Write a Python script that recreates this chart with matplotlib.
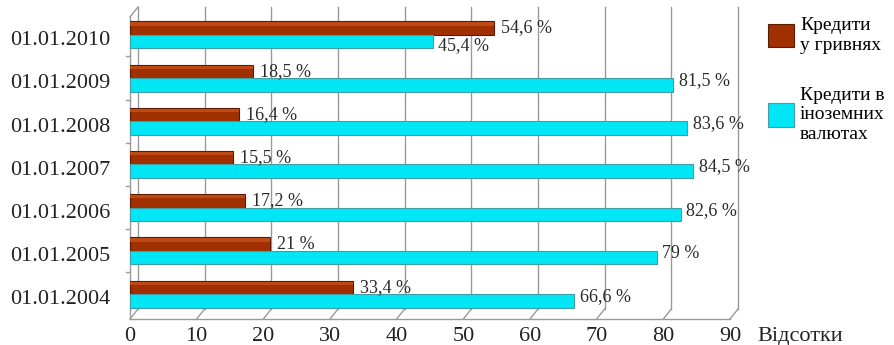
import numpy as np
import matplotlib.pyplot as plt
import matplotlib.transforms as mtransforms

dates = ["01.01.2004", "01.01.2005", "01.01.2006", "01.01.2007",
         "01.01.2008", "01.01.2009", "01.01.2010"]
hrn = [33.4, 21, 17.2, 15.5, 16.4, 18.5, 54.6]
fx = [66.6, 79, 82.6, 84.5, 83.6, 81.5, 45.4]
xticks = [0, 10, 20, 30, 40, 50, 60, 70, 80, 90]

serif = ['Liberation Serif']
plt.rcParams['font.family'] = serif

W, H = 894, 345
fig = plt.figure(figsize=(W / 100, H / 100), dpi=100)
# front plane of the pseudo-3D box, in pixels
left, right, bottom, top = 130, 730, 319, 17
ax = fig.add_axes([left / W, (H - bottom) / H, (right - left) / W, (bottom - top) / H])

step = 43.2
y_first = 294
ax.set_xlim(0, 90)
ax.set_ylim(-(bottom - y_first) / step, 6 + ((y_first - 6 * step) - top) / step)
for s in ax.spines.values():
    s.set_visible(False)

y = np.arange(len(dates))
h = 13.5 / step
brown = "#a03000"
cyan = "#00e6f5"
b1 = ax.barh(y + h / 2, hrn, height=h, color=brown, edgecolor="#5c1a00", linewidth=0.8,
             label="Кредити\nу гривнях", zorder=3)
b2 = ax.barh(y - h / 2, fx, height=h, color=cyan, edgecolor="#3f9ea6", linewidth=0.8,
             label="Кредити в\nіноземних\nвалютах", zorder=3)

# lighter strip along the top of the brown bars
ax.barh(y + h * 0.8, hrn, height=h * 0.25, color="#bd4a14", linewidth=0, zorder=4)

def fmt(v):
    return ("%g" % v).replace(".", ",") + " %"

for yi, v in zip(y, hrn):
    ax.annotate(fmt(v), (v, yi + h / 2), xytext=(5, 0), textcoords="offset points",
                va="center", ha="left", fontsize=13, color="#2a2a2a", zorder=5)
for yi, v, vh in zip(y, fx, hrn):
    # push the label below the bar when the brown bar would cover it
    dy_lab = -3 if vh > v else 3
    ax.annotate(fmt(v), (v, yi - h / 2), xytext=(4, dy_lab), textcoords="offset points",
                va="center", ha="left", fontsize=13, color="#2a2a2a", zorder=5)

# back wall and floor of the box
dx, dy = 8, 10
back = mtransforms.offset_copy(ax.transData, fig=fig, x=dx, y=dy, units="dots")
y0, y1 = ax.get_ylim()
grid = "#9a9a9a"
for xv in xticks:
    ax.plot([xv, xv], [y0, y1], color=grid, lw=1, transform=back, clip_on=False, zorder=1)
    fx0, fy0 = ax.transData.transform((xv, y0))
    ax.plot([fx0, fx0 + dx], [fy0, fy0 + dy], color=grid, lw=1, transform=None, clip_on=False)
ax.plot([0, 90], [y0, y0], color=grid, lw=1, clip_on=False)
ax.plot([0, 0], [y0, y1], color=grid, lw=1, clip_on=False)
tx, ty = ax.transData.transform((0, y1))
ax.plot([tx, tx + dx], [ty, ty + dy], color=grid, lw=1, transform=None, clip_on=False)
for yc in y[:-1] + 0.5:
    ax.plot([-0.6, 0], [yc, yc], color=grid, lw=1, clip_on=False)

ax.set_xticks(xticks)
ax.set_xticklabels([str(t) for t in xticks], fontsize=16, color="#222222")
ax.set_yticks(y - 0.08)
ax.set_yticklabels(dates, fontsize=16, color="#222222")
ax.tick_params(axis="x", length=0, pad=6)
ax.tick_params(axis="y", length=0, pad=14)

fig.text(757 / W, (H - 336) / H, "Відсотки", fontsize=16, color="#222222", va="center", ha="left")

fig.legend(handles=[b1, b2], loc="upper left", bbox_to_anchor=(768 / W, 1 - 17 / H),
           frameon=False, prop={"family": serif, "size": 14}, handlelength=1.35,
           handleheight=1.5, labelspacing=1.7, handletextpad=0.3, borderaxespad=0,
           borderpad=0)

fig.savefig("out.png", dpi=100)
